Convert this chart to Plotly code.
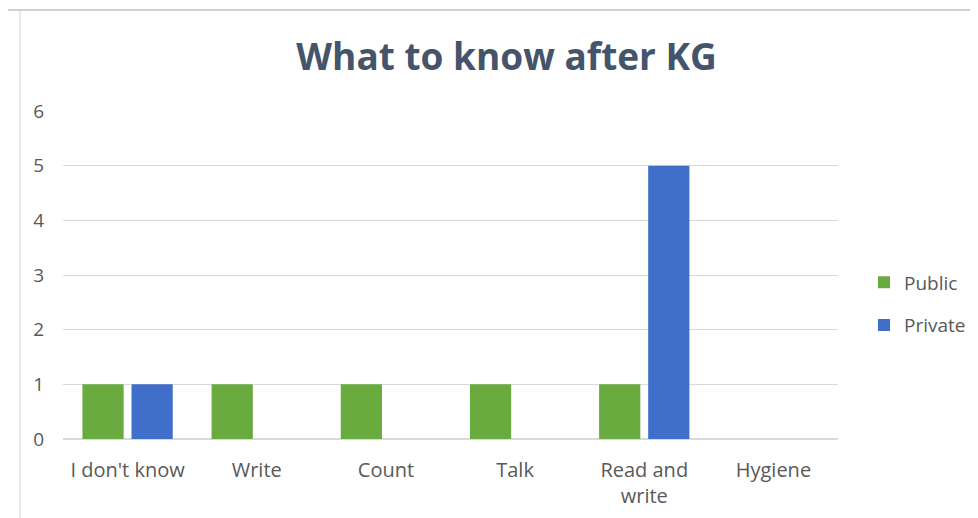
import plotly.graph_objects as go

categories = ["I don't know", "Write", "Count", "Talk", "Read and<br>write", "Hygiene"]
public = [1, 1, 1, 1, 1, 0]
private = [1, 0, 0, 0, 5, 0]

# the page body adds an 8px offset, so the figure is 8px smaller than the window
W, H = 970, 510
FONT = "Open Sans, Noto Sans, sans-serif"
GREY = "#595959"

fig = go.Figure()
fig.add_trace(go.Bar(x=categories, y=public, name="Public", legendgroup="pub",
                     marker=dict(color="#6aab40", line=dict(width=0))))
fig.add_trace(go.Bar(x=categories, y=private, name="Private", legendgroup="priv",
                     marker=dict(color="#3f6fc8", line=dict(width=0))))

fig.update_layout(
    width=W, height=H,
    margin=dict(l=55, r=140, t=103, b=79, autoexpand=False),
    paper_bgcolor="white", plot_bgcolor="white",
    barmode="group", bargap=0.24, bargroupgap=0.16,
    title=dict(text="<b>What to know after KG</b>", x=0.514, xanchor="center",
               y=1 - 49 / H, yanchor="middle", xref="container",
               font=dict(family=FONT, size=37, color="#44546a")),
    font=dict(family=FONT, size=19, color=GREY),
    xaxis=dict(showgrid=False, showline=False, ticks="", ticklabelstandoff=17,
               automargin=False, tickfont=dict(size=20, color=GREY)),
    yaxis=dict(range=[0, 6], dtick=1, showgrid=True, gridcolor="#d9d9d9",
               gridwidth=1, zeroline=True, zerolinecolor="#d9d9d9",
               automargin=False, ticklabelstandoff=18,
               tickfont=dict(size=19, color=GREY)),
    legend=dict(x=856 / W, y=1 - 296 / H, xref="container", yref="container",
                yanchor="middle", xanchor="left",
                font=dict(size=19, color=GREY), itemwidth=30,
                tracegroupgap=15),
    showlegend=True,
)

# spreadsheet frame around the chart
ph, pw = H - 103 - 79, W - 55 - 140
fig.add_shape(type="line", xref="paper", yref="paper",
              x0=-55 / pw, x1=1 + 140 / pw, y0=1 + 101 / ph, y1=1 + 101 / ph,
              line=dict(color="#d0d0d0", width=2))
fig.add_shape(type="line", xref="paper", yref="paper",
              x0=-43 / pw, x1=-43 / pw, y0=-79 / ph, y1=1 + 101 / ph,
              line=dict(color="#d0d0d0", width=1))

fig.write_html("out.html")
